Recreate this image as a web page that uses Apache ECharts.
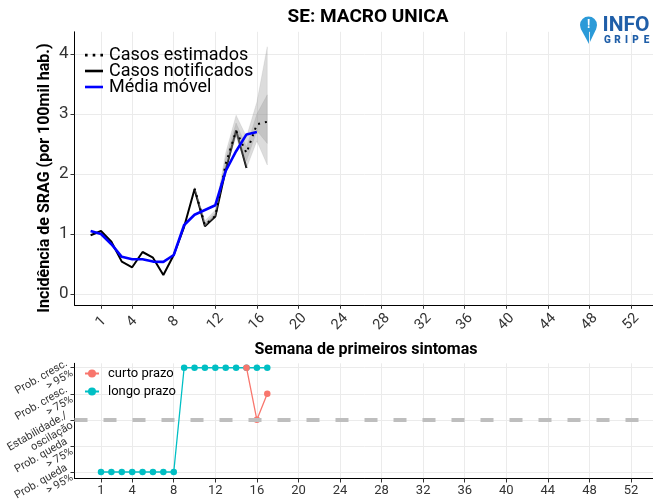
<!DOCTYPE html>
<html><head><meta charset="utf-8">
<script src="https://cdn.jsdelivr.net/npm/echarts@6/dist/echarts.min.js"></script>
<style>html,body{margin:0;padding:0;background:#fff}#c{width:653px;height:504px}</style>
</head><body><div id="c"></div>
<script>
// ---- data ----
const weekTicks = [1,4,8,12,16,20,24,28,32,36,40,44,48,52];
const incTicks = [0,1,2,3,4];
const notifWeeks = [0,1,2,3,4,5,6,7,8,9,10,11,12,13,14,15];
const notifValues = [0.98,1.05,0.87,0.54,0.445,0.70,0.605,0.317,0.65,1.12,1.745,1.13,1.29,2.07,2.73,2.10];
const mmWeeks = [0,1,2,3,4,5,6,7,8,9,10,11,12,13,14,15,16];
const mmValues = [1.05,1.0,0.83,0.62,0.58,0.58,0.54,0.535,0.65,1.15,1.32,1.40,1.48,2.05,2.38,2.66,2.70];
const estWeeks = [10,11,12,13,14,15,16,17];
const estValues = [1.76,1.15,1.30,2.17,2.72,2.35,2.83,2.87];
const outerLo = [1.745,1.13,1.29,2.07,2.62,2.10,2.55,2.15];
const outerHi = [1.78,1.22,1.40,2.35,2.98,2.62,3.20,4.12];
const innerLo = [1.75,1.14,1.30,2.12,2.66,2.22,2.72,2.51];
const innerHi = [1.77,1.18,1.35,2.26,2.85,2.45,3.00,3.32];
const longWeeks = [1,2,3,4,5,6,7,8,9,10,11,12,13,14,15,16,17];
const longTerm = [1,1,1,1,1,1,1,1,5,5,5,5,5,5,5,5,5];
const shortWeeks = [15,16,17];
const shortTerm = [5,3,4];
const trendTicks = [1,2,3,4,5];
const trendTicksOdd = [1,3,5];
const trendTicksEven = [2,4];
const trendLabels = ['Prob. queda\n> 95%','Prob. queda\n> 75%','Estabilidade./\noscilação','Prob. cresc.\n> 75%','Prob. cresc.\n> 95%'];

const FONT = 'Roboto';
const pair = (xs, ys) => xs.map((x,i)=>[x, ys[i]]);

function band(lo, hi, fill, z) {
  return {
    type:'custom', xAxisIndex:0, yAxisIndex:0, z:z, silent:true, clip:true,
    data:[[estWeeks[0], lo[0]]],
    renderItem:(params, api) => {
      if (params.dataIndex !== 0) return;
      const pts = [];
      estWeeks.forEach((w,i)=>pts.push(api.coord([w, hi[i]])));
      for (let i=estWeeks.length-1;i>=0;i--) pts.push(api.coord([estWeeks[i], lo[i]]));
      return {type:'polygon', shape:{points:pts}, style:{fill:fill, stroke:'rgba(120,120,120,0.25)', lineWidth:0.5}};
    }
  };
}

const axisLineStyle = {show:true, onZero:false, lineStyle:{color:'#000', width:1}};
const splitStyle = {show:true, lineStyle:{color:'#ebebeb', width:1}};
const ICON_DOTS = 'path://M0,0 M18,14 M0,5.8h2.6v2.6h-2.6z M7.7,5.8h2.6v2.6h-2.6z M15.4,5.8h2.6v2.6h-2.6z';
const ICON_LINE = 'path://M0,0 M18,14 M0,5.7h18v2.6h-18z';
const trendLabelStyle = {formatter:v=>trendLabels[Math.round(v)-1], rotate:30,
  fontSize:11, lineHeight:11.5, color:'#333', margin:5, align:'right', fontFamily:FONT,
  hideOverlap:false, showMinLabel:true, showMaxLabel:true};

const chart = echarts.init(document.getElementById('c'));
chart.setOption({
  animation:false,
  backgroundColor:'#fff',
  textStyle:{fontFamily:FONT},
  grid:[
    {left:74.5, right:-4.5, top:31.8, height:273, outerBoundsMode:'none', containLabel:false},
    {left:74.5, right:-4.5, top:363.3, height:115.2, outerBoundsMode:'none', containLabel:false}
  ],
  xAxis:[
    {type:'value', gridIndex:0, min:-1.55, max:54.55, axisLine:axisLineStyle,
     axisTick:{show:true, customValues:weekTicks, length:4, lineStyle:{color:'#333'}},
     axisLabel:{customValues:weekTicks, rotate:45, align:'center', verticalAlign:'middle', fontSize:14.5, color:'#333', margin:17, fontFamily:FONT, hideOverlap:false},
     splitLine:splitStyle},
    {type:'value', gridIndex:1, min:-1.55, max:54.55, axisLine:axisLineStyle,
     axisTick:{show:true, customValues:weekTicks, length:4, lineStyle:{color:'#333'}},
     axisLabel:{customValues:weekTicks, fontSize:13, color:'#333', margin:6, fontFamily:FONT, hideOverlap:false},
     splitLine:splitStyle}
  ],
  yAxis:[
    {type:'value', gridIndex:0, min:-0.18, max:4.37, axisLine:axisLineStyle,
     axisTick:{show:true, customValues:incTicks, length:4, lineStyle:{color:'#333'}},
     axisLabel:{customValues:incTicks, fontSize:17, color:'#333', margin:6, fontFamily:FONT, hideOverlap:false},
     splitLine:splitStyle},
    {type:'value', gridIndex:1, position:'left', offset:0, min:0.75, max:5.17, axisLine:axisLineStyle,
     axisTick:{show:true, customValues:trendTicks, length:4, lineStyle:{color:'#333'}},
     axisLabel:Object.assign({customValues:trendTicksOdd}, trendLabelStyle),
     splitLine:Object.assign({}, splitStyle)},
    {type:'value', gridIndex:1, position:'left', offset:0, min:0.75, max:5.17,
     axisLine:{show:false}, axisTick:{show:false, customValues:trendTicksEven},
     axisLabel:Object.assign({customValues:trendTicksEven}, trendLabelStyle),
     splitLine:{show:false}}
  ],
  legend:[
    {orient:'vertical', left:80, top:41, itemWidth:18, itemHeight:14, itemGap:-2,
     data:[{name:'Casos estimados', icon:ICON_DOTS},{name:'Casos notificados', icon:ICON_LINE},{name:'Média móvel', icon:ICON_LINE}],
     textStyle:{fontSize:18, color:'#000', fontFamily:FONT, padding:[0,0,0,1], lineHeight:15}},
    {orient:'vertical', left:79, top:362, itemWidth:14, itemHeight:10, itemGap:5,
     data:['curto prazo','longo prazo'],
     textStyle:{fontSize:13, color:'#000', fontFamily:FONT, padding:[0,0,0,4]}}
  ],
  series:[
    {name:'Casos notificados', type:'line', xAxisIndex:0, yAxisIndex:0, z:2,
     data:pair(notifWeeks, notifValues), symbol:'none', lineStyle:{color:'#000', width:2}, itemStyle:{color:'#000'}},
    band(outerLo, outerHi, 'rgba(150,150,150,0.33)', 3),
    band(innerLo, innerHi, 'rgba(150,150,150,0.33)', 3),
    {name:'Casos estimados', type:'line', xAxisIndex:0, yAxisIndex:0, z:4,
     data:pair(estWeeks, estValues), symbol:'none', lineStyle:{color:'#000', width:2, type:[2,5]}, itemStyle:{color:'#000'}},
    {name:'Média móvel', type:'line', xAxisIndex:0, yAxisIndex:0, z:5,
     data:pair(mmWeeks, mmValues), symbol:'none', lineStyle:{color:'#0000ff', width:2.6}, itemStyle:{color:'#0000ff'}},
    {name:'longo prazo', type:'line', xAxisIndex:1, yAxisIndex:1, z:3,
     data:pair(longWeeks, longTerm), symbol:'circle', symbolSize:6.5,
     lineStyle:{color:'#00BFC4', width:1.3}, itemStyle:{color:'#00BFC4'},
     markLine:{silent:true, symbol:'none', label:{show:false},
       lineStyle:{color:'#bebebe', width:4, type:[13,16]}, data:[{yAxis:3}]}},
    {name:'curto prazo', type:'line', xAxisIndex:1, yAxisIndex:1, z:4,
     data:pair(shortWeeks, shortTerm), symbol:'circle', symbolSize:6.5,
     lineStyle:{color:'#F8766D', width:1.3}, itemStyle:{color:'#F8766D'}}
  ],
  graphic:[
    {type:'text', x:368, y:17, style:{text:'SE: MACRO UNICA', font:'bold 19px Roboto', fill:'#000', textAlign:'center', textVerticalAlign:'middle'}},
    {type:'text', x:45, y:178, rotation:Math.PI/2, style:{text:'Incidência de SRAG (por 100mil hab.)', font:'bold 16px Roboto', fill:'#000', textAlign:'center', textVerticalAlign:'middle'}},
    {type:'text', x:366, y:350, style:{text:'Semana de primeiros sintomas', font:'bold 16px Roboto', fill:'#000', textAlign:'center', textVerticalAlign:'middle'}},
    {type:'group', z:100, children:[
      {type:'circle', shape:{cx:588.5, cy:25, r:8.5}, style:{fill:'#2b9ad8'}},
      {type:'polygon', shape:{points:[[580.6,28.5],[596.4,28.5],[589,44]]}, style:{fill:'#2b9ad8'}},
      {type:'text', x:588.5, y:25, style:{text:'!', font:'bold 12px Roboto', fill:'#fff', textAlign:'center', textVerticalAlign:'middle'}},
      {type:'text', x:602.5, y:26, style:{text:'INFO', font:'bold 21px Roboto', fill:'#1f5ea8', textAlign:'left', textVerticalAlign:'middle'}},
      {type:'text', x:607.5, y:40.5, style:{text:'G', font:'900 10px Roboto', fill:'#1f5ea8', textAlign:'center', textVerticalAlign:'middle'}},
      {type:'text', x:617.5, y:40.5, style:{text:'R', font:'900 10px Roboto', fill:'#1f5ea8', textAlign:'center', textVerticalAlign:'middle'}},
      {type:'text', x:626.5, y:40.5, style:{text:'I', font:'900 10px Roboto', fill:'#1f5ea8', textAlign:'center', textVerticalAlign:'middle'}},
      {type:'text', x:635.5, y:40.5, style:{text:'P', font:'900 10px Roboto', fill:'#1f5ea8', textAlign:'center', textVerticalAlign:'middle'}},
      {type:'text', x:646.5, y:40.5, style:{text:'E', font:'900 10px Roboto', fill:'#1f5ea8', textAlign:'center', textVerticalAlign:'middle'}}
    ]}
  ]
});
</script></body></html>
